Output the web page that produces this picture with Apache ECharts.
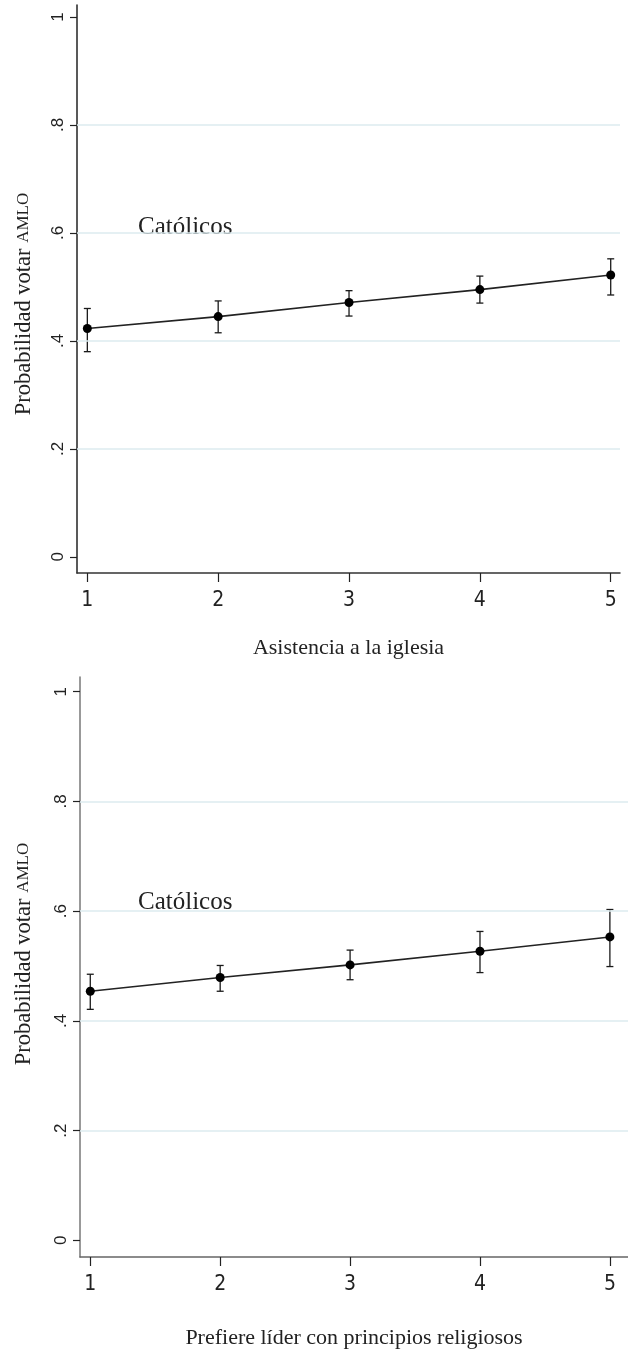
<!DOCTYPE html>
<html>
<head>
<meta charset="utf-8">
<script src="https://cdn.jsdelivr.net/npm/echarts@6/dist/echarts.min.js"></script>
<style>
html,body{margin:0;padding:0;background:#fff;}
#chart{width:628px;height:1356px;}
</style>
</head>
<body>
<div id="chart"></div>
<script>
// ---- data ----
var xCategories = [1, 2, 3, 4, 5];
var yTicks = [0, 0.2, 0.4, 0.6, 0.8, 1];
var gridValues = [0.2, 0.4, 0.6, 0.8];

// Panel 1: Asistencia a la iglesia
var p1Mean = [0.423, 0.445, 0.471, 0.495, 0.522];
var p1Low  = [0.380, 0.415, 0.446, 0.470, 0.485];
var p1High = [0.460, 0.474, 0.493, 0.520, 0.552];

// Panel 2: Prefiere líder con principios religiosos
var p2Mean = [0.454, 0.479, 0.502, 0.527, 0.553];
var p2Low  = [0.421, 0.454, 0.475, 0.488, 0.499];
var p2High = [0.485, 0.501, 0.529, 0.563, 0.603];

var xTitle1 = 'Asistencia a la iglesia';
var xTitle2 = 'Prefiere líder con principios religiosos';
var yTitleMain = 'Probabilidad votar ';
var yTitleSmall = 'AMLO';
var panelLabel = 'Católicos';

// ---- build ----
function pairs(xs, ys){ return xs.map(function(x,i){ return [x, ys[i]]; }); }
function triples(xs, lo, hi){ return xs.map(function(x,i){ return [x, lo[i], hi[i]]; }); }

function renderErr(params, api){
  var x = api.value(0), lo = api.value(1), hi = api.value(2);
  var a = api.coord([x, lo]), b = api.coord([x, hi]);
  var w = 3.5;
  var st = {stroke:'#1a1a1a', lineWidth:1.3};
  return {type:'group', children:[
    {type:'line', shape:{x1:a[0], y1:a[1], x2:b[0], y2:b[1]}, style:st},
    {type:'line', shape:{x1:a[0]-w, y1:a[1], x2:a[0]+w, y2:a[1]}, style:st},
    {type:'line', shape:{x1:b[0]-w, y1:b[1], x2:b[0]+w, y2:b[1]}, style:st}
  ]};
}

var serif = "'Liberation Serif', 'DejaVu Serif', serif";
var sans = "'Liberation Sans', Arial, sans-serif";
var narrow = "'Liberation Sans Narrow', 'DejaVu Sans Condensed', 'Liberation Sans', sans-serif";

function yAxisCfg(gridIndex, min, max, lineColor){
  return {
    type:'value', gridIndex:gridIndex, min:min, max:max,
    axisLine:{show:true, lineStyle:{color:lineColor, width:1.5}},
    axisTick:{show:true, length:7, customValues:yTicks, lineStyle:{color:'#222', width:1.2}},
    axisLabel:{show:true, customValues:yTicks, rotate:90, margin:10,
      fontFamily:sans, fontSize:17, color:'#222',
      formatter:function(v){ if (Math.abs(v) < 1e-9) return '0'; if (Math.abs(v-1) < 1e-9) return '1'; return String(Math.round(v*10)/10).replace(/^0/, ''); }},
    splitLine:{show:false}
  };
}
function xAxisCfg(gridIndex, min, max, lineColor, title, gap){
  return {
    type:'value', gridIndex:gridIndex, min:min, max:max,
    axisLine:{show:true, onZero:false, lineStyle:{color:lineColor, width:1.5}},
    axisTick:{show:true, length:9, customValues:xCategories, lineStyle:{color:'#222', width:1.2}},
    axisLabel:{show:true, customValues:xCategories, margin:17,
      fontFamily:narrow, fontSize:21, color:'#222'},
    splitLine:{show:false},
    name:title, nameLocation:'middle', nameGap:gap,
    nameTextStyle:{fontFamily:serif, fontSize:22, color:'#222'}
  };
}
function gridSeries(idx){
  return {
    type:'line', xAxisIndex:idx, yAxisIndex:idx, data:[], z:1, silent:true,
    markLine:{silent:true, symbol:['none','none'], label:{show:false},
      lineStyle:{color:'#dcebef', width:1.5, type:'solid'},
      data:gridValues.map(function(v){ return {yAxis:v}; })}
  };
}
function lineSeries(idx, ys){
  return {
    type:'line', xAxisIndex:idx, yAxisIndex:idx, data:pairs(xCategories, ys), z:4,
    symbol:'circle', symbolSize:9, itemStyle:{color:'#000'},
    lineStyle:{color:'#222', width:1.6}
  };
}
function errSeries(idx, lo, hi){
  return {
    type:'custom', xAxisIndex:idx, yAxisIndex:idx, z:3,
    renderItem:renderErr, data:triples(xCategories, lo, hi)
  };
}

var chart = echarts.init(document.getElementById('chart'), null, {renderer:'canvas'});
chart.setOption({
  animation:false,
  backgroundColor:'#fff',
  grid:[
    {left:77, top:5, width:543, height:568},
    {left:80, top:677, width:560, height:580}
  ],
  xAxis:[
    xAxisCfg(0, 0.921, 5.071, '#333', xTitle1, 64),
    xAxisCfg(1, 0.9209, 5.1394, '#666', xTitle2, 70)
  ],
  yAxis:[
    yAxisCfg(0, -0.0300, 1.0222, '#222'),
    yAxisCfg(1, -0.0304, 1.0268, '#777')
  ],
  graphic:[
    {type:'text', x:24, y:304, rotation:Math.PI/2,
      style:{text:'{a|' + yTitleMain + '}{b|' + yTitleSmall + '}', align:'center', verticalAlign:'middle',
        rich:{a:{fontFamily:serif, fontSize:22.5, fill:'#222'}, b:{fontFamily:serif, fontSize:17, fill:'#222'}}}},
    {type:'text', x:24, y:954, rotation:Math.PI/2,
      style:{text:'{a|' + yTitleMain + '}{b|' + yTitleSmall + '}', align:'center', verticalAlign:'middle',
        rich:{a:{fontFamily:serif, fontSize:22.5, fill:'#222'}, b:{fontFamily:serif, fontSize:17, fill:'#222'}}}},
    {type:'text', x:138, y:227, style:{text:panelLabel, fontFamily:serif, fontSize:25, fill:'#222', verticalAlign:'middle'}},
    {type:'text', x:138, y:902, style:{text:panelLabel, fontFamily:serif, fontSize:25, fill:'#222', verticalAlign:'middle'}}
  ],
  series:[
    gridSeries(0), errSeries(0, p1Low, p1High), lineSeries(0, p1Mean),
    gridSeries(1), errSeries(1, p2Low, p2High), lineSeries(1, p2Mean)
  ]
});
</script>
</body>
</html>
